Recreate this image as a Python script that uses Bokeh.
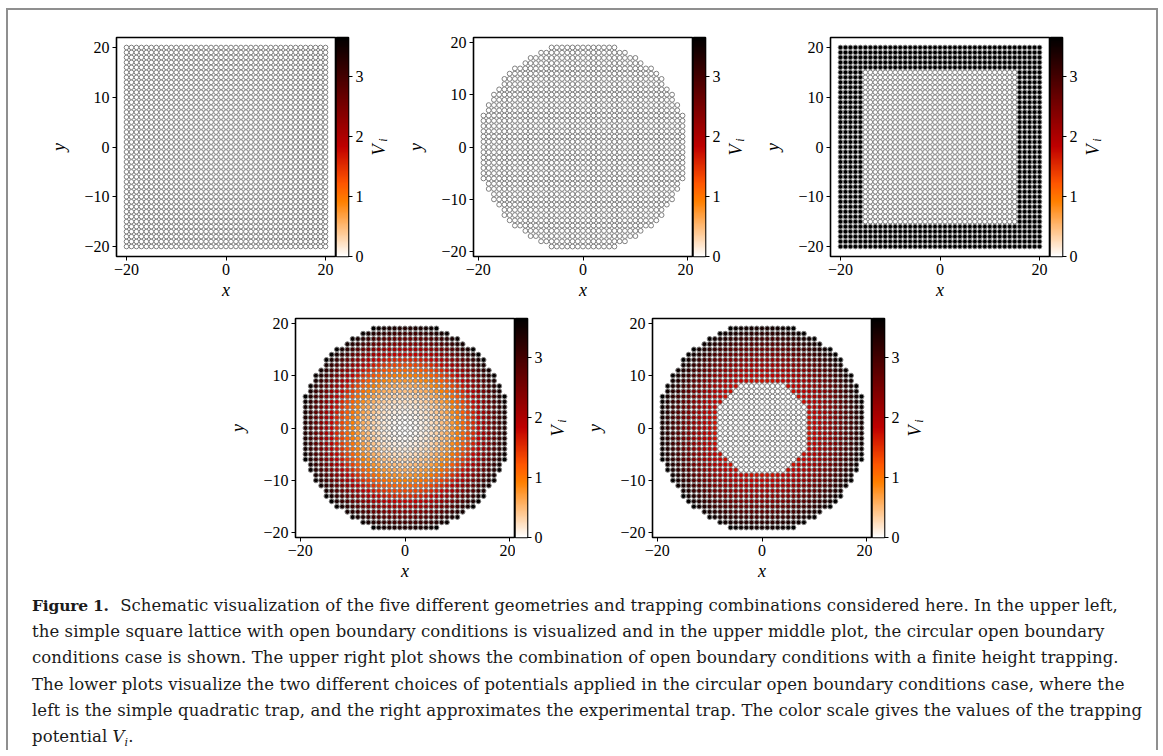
import math
import numpy as np
from bokeh.plotting import figure
from bokeh.models import (Range1d, FixedTicker, LinearColorMapper, Spacer, Div,
                          ColumnDataSource, CustomJSTickFormatter)
from bokeh.layouts import row, column
from bokeh.transform import linear_cmap
from bokeh.core.properties import value
from bokeh.embed import file_html
from bokeh.resources import INLINE

# ---------------- data ----------------
SITE_COORDS = list(range(-20, 21))      # lattice sites along x and y
DISK_RADIUS = 20.0                      # circular geometry keeps r < 20
BOX_FREE_HALF = 15                      # finite-height box: |x|,|y| <= 15 untrapped
V_MAX = 3.65                            # top of colour scale / wall height
QUAD_K = 0.00919                        # quadratic trap V = k r^2
EXP_CORE_R = 9.0                        # experimental trap: flat core r < 9
EXP_V_EDGE = 1.70                       # value just outside the core
EXP_K = 0.00617                         # rise outside the core (per r^2)
X_TICKS = [-20, 0, 20]
Y_TICKS = [-20, -10, 0, 10, 20]
CBAR_TICKS = [0, 1, 2, 3]
CAPTION_LINES = [
    "<b style='font-size:15.5px; letter-spacing:-0.2px; margin-right:6px;'>Figure 1.</b> Schematic visualization of the five different geometries and trapping combinations considered here. In the upper left,",
    "the simple square lattice with open boundary conditions is visualized and in the upper middle plot, the circular open boundary",
    "conditions case is shown. The upper right plot shows the combination of open boundary conditions with a finite height trapping.",
    "The lower plots visualize the two different choices of potentials applied in the circular open boundary conditions case, where the",
    "left is the simple quadratic trap, and the right approximates the experimental trap. The color scale gives the values of the trapping",
    "potential <i>V</i><sub style='font-size:11px; line-height:0'><i>i</i></sub>.",
]

# ---------------- lattice / potentials ----------------
gx, gy = np.meshgrid(SITE_COORDS, SITE_COORDS)
gx = gx.ravel().astype(float)
gy = gy.ravel().astype(float)
r2 = gx ** 2 + gy ** 2
disk = r2 < DISK_RADIUS ** 2
dx, dy, dr2 = gx[disk], gy[disk], r2[disk]

V_square = np.zeros_like(gx)
V_disk = np.zeros_like(dx)
V_box = np.where(np.maximum(np.abs(gx), np.abs(gy)) > BOX_FREE_HALF, V_MAX, 0.0)
V_quad = QUAD_K * dr2
V_exp = np.where(dr2 < EXP_CORE_R ** 2, 0.0, EXP_V_EDGE + EXP_K * (dr2 - EXP_CORE_R ** 2))


def gist_heat_r(n=256):
    pal = []
    for k in range(n):
        t = 1 - k / (n - 1)
        r = min(1.0, 1.5 * t)
        g = min(1.0, max(0.0, 2 * t - 1))
        b = min(1.0, max(0.0, 4 * t - 3))
        pal.append("#%02x%02x%02x" % (round(r * 255), round(g * 255), round(b * 255)))
    return pal


PALETTE = gist_heat_r()

# ---------------- layout constants ----------------
FRAME = 219
LEFT = 80
MAIN_W = LEFT + FRAME + 1      # 300
CB_W = 12
CB_R = 20
LAB_W = 25                     # 300 + 32 + 25 = 357 per panel
TICK_FONT = "Liberation Serif"
TICK_SIZE = "16px"
LABEL_SIZE = "18px"

fmt_js = "return tick < 0 ? '\u2212' + Math.abs(tick) : '' + tick;"


def style_axis(ax):
    ax.axis_line_color = None
    ax.major_tick_out = 4
    ax.major_tick_in = 0
    ax.major_tick_line_color = "black"
    ax.major_tick_line_width = 1
    ax.minor_tick_line_color = None
    ax.major_label_text_font = TICK_FONT
    ax.major_label_text_font_size = TICK_SIZE
    ax.major_label_text_color = "black"
    ax.major_label_standoff = 3
    ax.axis_label_text_font = TICK_FONT
    ax.axis_label_text_font_style = "italic"
    ax.axis_label_text_font_size = LABEL_SIZE
    ax.axis_label_text_color = "black"


def make_main(xs, ys, V, lim, T, B):
    p = figure(width=MAIN_W, height=T + FRAME + B,
               x_range=Range1d(-lim, lim), y_range=Range1d(-lim, lim),
               output_backend="svg", toolbar_location=None,
               min_border_left=LEFT, min_border_right=1,
               min_border_top=T, min_border_bottom=B)
    src = ColumnDataSource(dict(x=xs, y=ys, V=V))
    p.circle("x", "y", radius=0.46, source=src,
             fill_color=linear_cmap("V", PALETTE, 0, V_MAX),
             line_color="#808080", line_width=1.0)
    p.xgrid.visible = False
    p.ygrid.visible = False
    p.outline_line_color = "black"
    p.outline_line_width = 1.6
    p.background_fill_color = "white"
    p.border_fill_color = "white"
    for ax in p.axis:
        style_axis(ax)
        ax.formatter = CustomJSTickFormatter(code=fmt_js)
    p.xaxis.ticker = FixedTicker(ticks=X_TICKS)
    p.yaxis.ticker = FixedTicker(ticks=Y_TICKS)
    p.xaxis.axis_label = "x"
    p.yaxis.axis_label = "y"
    p.xaxis.axis_label_standoff = 2
    p.yaxis.axis_label_standoff = 12
    return p


def make_cbar(T, B):
    c = figure(width=CB_W + CB_R, height=T + FRAME + B,
               x_range=Range1d(0, 1), y_range=Range1d(0, V_MAX),
               x_axis_location=None, y_axis_location="right",
               output_backend="svg", toolbar_location=None,
               min_border_left=0, min_border_right=CB_R,
               min_border_top=T, min_border_bottom=B)
    grad = np.linspace(0, V_MAX, 256).reshape(-1, 1)
    c.image(image=[grad], x=0, y=0, dw=1, dh=V_MAX,
            color_mapper=LinearColorMapper(palette=PALETTE, low=0, high=V_MAX))
    c.xgrid.visible = False
    c.ygrid.visible = False
    c.outline_line_color = "black"
    c.outline_line_width = 1.6
    c.border_fill_color = "white"
    ax = c.yaxis[0]
    style_axis(ax)
    ax.ticker = FixedTicker(ticks=CBAR_TICKS)
    return c


def make_vlabel(T, B):
    # narrow panel holding the rotated colour-bar label V_i (pixel-like ranges)
    f = figure(width=LAB_W, height=T + FRAME + B,
               x_range=Range1d(0, LAB_W), y_range=Range1d(0, FRAME),
               x_axis_location=None, y_axis_location=None,
               output_backend="svg", toolbar_location=None,
               min_border_left=0, min_border_right=0,
               min_border_top=T, min_border_bottom=B)
    f.xgrid.visible = False
    f.ygrid.visible = False
    f.outline_line_color = None
    f.border_fill_color = "white"
    f.text(x=[10], y=[FRAME / 2 - 3], text=["V"], angle=math.pi / 2,
           text_align="center", text_baseline="middle",
           text_font=value(TICK_FONT), text_font_style="italic",
           text_font_size="18px", text_color="black")
    f.text(x=[14.5], y=[FRAME / 2 + 7], text=["i"], angle=math.pi / 2,
           text_align="center", text_baseline="middle",
           text_font=value(TICK_FONT), text_font_style="italic",
           text_font_size="12px", text_color="black")
    return f


T1, B1 = 27, 50
T2, B2 = 12, 56
LIM_SQ = 22.0
LIM_DISK = 20.9

panels_top = [
    (gx, gy, V_square, LIM_SQ),
    (dx, dy, V_disk, LIM_DISK),
    (gx, gy, V_box, LIM_SQ),
]
panels_bot = [
    (dx, dy, V_quad, LIM_DISK),
    (dx, dy, V_exp, LIM_DISK),
]

top_children = [Spacer(width=28, height=10)]
for xs, ys, V, lim in panels_top:
    top_children += [make_main(xs, ys, V, lim, T1, B1), make_cbar(T1, B1), make_vlabel(T1, B1)]
bot_children = [Spacer(width=207, height=10)]
for xs, ys, V, lim in panels_bot:
    bot_children += [make_main(xs, ys, V, lim, T2, B2), make_cbar(T2, B2), make_vlabel(T2, B2)]

caption_html = ("<div style=\"font-family:'DejaVu Serif'; font-size:16.5px; line-height:26.2px; "
                "letter-spacing:0.08px; color:#1a1a1a; white-space:nowrap; margin:0; padding:0;\">"
                + "<br>".join(CAPTION_LINES) + "</div>")
caption = Div(text=caption_html, width=1124, height=157, margin=0)

layout = column(
    row(*top_children),
    row(*bot_children),
    row(Spacer(width=24, height=10), caption),
    margin=(8, 0, 0, 6),
    styles={"border-left": "2px solid #8f8f8f", "border-top": "2px solid #8f8f8f",
            "border-right": "2px solid #8f8f8f", "background": "white"},
)

open("out.html", "w", encoding="utf-8").write(file_html(layout, INLINE))
